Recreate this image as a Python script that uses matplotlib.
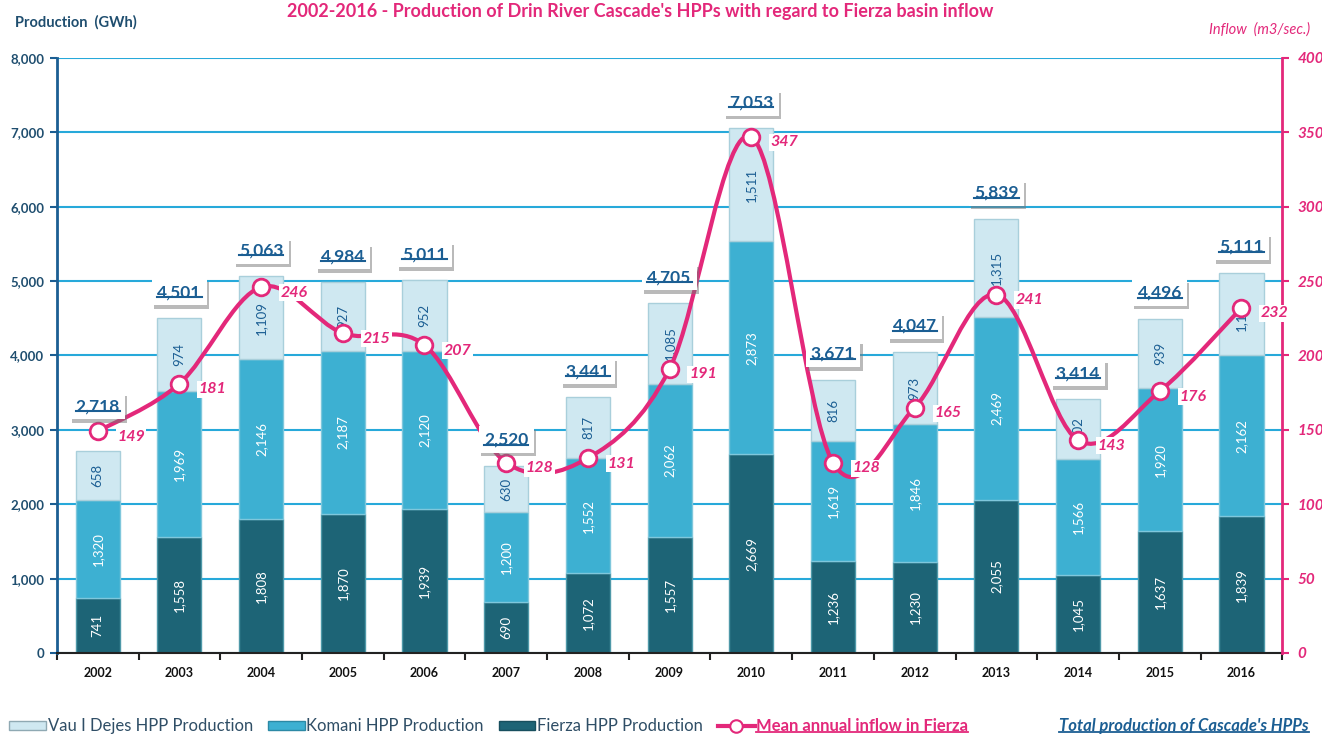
import matplotlib
matplotlib.use("Agg")
import matplotlib.pyplot as plt
import matplotlib.patheffects as pe
from matplotlib.path import Path
from matplotlib.patches import PathPatch, Patch
from matplotlib.lines import Line2D

plt.rcParams["font.family"] = ["Lato", "DejaVu Sans"]

years = ["2002", "2003", "2004", "2005", "2006", "2007", "2008", "2009",
         "2010", "2011", "2012", "2013", "2014", "2015", "2016"]
fierza = [741, 1558, 1808, 1870, 1939, 690, 1072, 1557, 2669, 1236, 1230, 2055, 1045, 1637, 1839]
komani = [1320, 1969, 2146, 2187, 2120, 1200, 1552, 2062, 2873, 1619, 1846, 2469, 1566, 1920, 2162]
vau_dejes = [658, 974, 1109, 927, 952, 630, 817, 1085, 1511, 816, 973, 1315, 802, 939, 1110]
totals = [2718, 4501, 5063, 4984, 5011, 2520, 3441, 4705, 7053, 3671, 4047, 5839, 3414, 4496, 5111]
inflow = [149, 181, 246, 215, 207, 128, 131, 191, 347, 128, 165, 241, 143, 176, 232]

C = {
    "fierza": "#1D6476",
    "komani": "#3DB0D2",
    "vau": "#CFE8F1",
    "grid": "#27A9DA",
    "blue": "#1B5E93",
    "magenta": "#E3287A",
    "tick": "#1F4E6F",
}

fig = plt.figure(figsize=(13.22, 7.36), dpi=100)
fig.patch.set_facecolor("white")
ax = fig.add_axes([0.043, 0.1128, 0.927, 0.8084])
ax2 = ax.twinx()

x = list(range(len(years)))
w = 0.54

# stacked bars
ax.bar(x, fierza, width=w, color=C["fierza"], edgecolor="#4E98A8", linewidth=1, zorder=2)
ax.bar(x, komani, width=w, bottom=fierza, color=C["komani"], edgecolor="#7FC7DC",
       linewidth=1, zorder=2)
base2 = [a + b for a, b in zip(fierza, komani)]
ax.bar(x, vau_dejes, width=w, bottom=base2, color=C["vau"], edgecolor="#A9CFDB",
       linewidth=1, zorder=2)

for i in x:
    ax.text(i, fierza[i] / 2, f"{fierza[i]:,}", rotation=90, ha="center", va="center",
            color="white", fontsize=9.5, zorder=3)
    ax.text(i, fierza[i] + komani[i] / 2, f"{komani[i]:,}", rotation=90, ha="center",
            va="center", color="white", fontsize=9.5, zorder=3)
    ax.text(i, base2[i] + vau_dejes[i] / 2, f"{vau_dejes[i]:,}", rotation=90, ha="center",
            va="center", color=C["blue"], fontsize=9.5, zorder=3)

ax.set_xlim(-0.5, len(years) - 0.5)
ax.set_ylim(0, 8000)
ax.set_yticks(range(0, 8001, 1000))
ax.set_yticklabels([f"{v:,}" for v in range(0, 8001, 1000)], color=C["tick"],
                   fontsize=9.5, fontweight="bold")
ax.set_xticks(x)
ax.set_xticklabels(years, fontsize=9, fontweight="bold", color="#111111")
ax.tick_params(axis="x", length=0, pad=10)
ax.set_xticks([i - 0.5 for i in range(len(years) + 1)], minor=True)
ax.tick_params(axis="x", which="minor", length=5, width=1.5, color="#222222")
ax.tick_params(axis="y", length=5, width=1.5, color=C["blue"], pad=4)
ax.grid(axis="y", color=C["grid"], linewidth=1.5, zorder=0)
ax.set_axisbelow(True)
for s in ["top", "right"]:
    ax.spines[s].set_visible(False)
ax.spines["left"].set_color(C["blue"])
ax.spines["left"].set_linewidth(2)
ax.spines["bottom"].set_color("#222222")
ax.spines["bottom"].set_linewidth(1.5)

# inflow axis
ax2.set_ylim(0, 400)
ax2.set_yticks(range(0, 401, 50))
ax2.set_yticklabels([str(v) for v in range(0, 401, 50)], color=C["magenta"],
                    fontsize=11, fontweight="bold", fontstyle="italic")
ax2.tick_params(axis="y", length=5, width=1.5, color=C["magenta"], pad=6)
for s in ["top", "left", "bottom"]:
    ax2.spines[s].set_visible(False)
ax2.spines["right"].set_color(C["magenta"])
ax2.spines["right"].set_linewidth(2)

# smoothed inflow line (cubic bezier through data points)
verts = [(x[0], inflow[0])]
codes = [Path.MOVETO]
n = len(x)
for i in range(n - 1):
    p0 = (x[max(i - 1, 0)], inflow[max(i - 1, 0)])
    p1 = (x[i], inflow[i])
    p2 = (x[i + 1], inflow[i + 1])
    p3 = (x[min(i + 2, n - 1)], inflow[min(i + 2, n - 1)])
    c1 = (p1[0] + (p2[0] - p0[0]) / 6, p1[1] + (p2[1] - p0[1]) / 6)
    c2 = (p2[0] - (p3[0] - p1[0]) / 6, p2[1] - (p3[1] - p1[1]) / 6)
    verts += [c1, c2, p2]
    codes += [Path.CURVE4] * 3
ax2.add_patch(PathPatch(Path(verts, codes), fill=False, edgecolor=C["magenta"],
                        linewidth=3, zorder=4, capstyle="round"))
ax2.plot(x, inflow, ls="none", marker="o", markersize=12, markerfacecolor="white",
         markeredgecolor=C["magenta"], markeredgewidth=2, zorder=5)
for i in x:
    ax2.annotate(str(inflow[i]), (i, inflow[i]), xytext=(14, -4), textcoords="offset points",
                 ha="left", va="center", color=C["magenta"], fontsize=11.5,
                 fontweight="bold", fontstyle="italic", zorder=6,
                 bbox=dict(boxstyle="square,pad=0.1", fc="white", ec="none"))

# total labels
total_offset = {0: 600}
total_texts = []
for i in x:
    t = ax2.text(i, (totals[i] + total_offset.get(i, 350)) / 20, f"{totals[i]:,}",
                 ha="center", va="center", color=C["blue"], fontsize=12.5,
                 fontweight="bold", zorder=7,
                 bbox=dict(boxstyle="square,pad=0.3", fc="white", ec="none"))
    t.get_bbox_patch().set_path_effects([
        pe.withSimplePatchShadow(offset=(1.5, -2.5), shadow_rgbFace="#777777", alpha=0.5),
        pe.Normal()])
    total_texts.append(t)

# titles
fig.text(0.484, 0.985, "2002-2016 - Production of Drin River Cascade's HPPs with regard to Fierza basin inflow",
         ha="center", va="center", color=C["magenta"], fontsize=13, fontweight="bold")
fig.text(0.011, 0.970, "Production  (GWh)", ha="left", va="center", color=C["tick"],
         fontsize=10.5, fontweight="bold")
fig.text(0.991, 0.960, "Inflow  (m3/sec.)", ha="right", va="center", color=C["magenta"],
         fontsize=10.5, fontstyle="italic")

# legend
handles = [
    Patch(facecolor=C["vau"], edgecolor="#8FA9B3"),
    Patch(facecolor=C["komani"], edgecolor="#2C89A5"),
    Patch(facecolor=C["fierza"], edgecolor="#174F5E"),
    Line2D([], [], color=C["magenta"], lw=3, marker="o", markersize=9,
           markerfacecolor="white", markeredgecolor=C["magenta"], markeredgewidth=1.5),
]
labels = ["Vau I Dejes HPP Production", "Komani HPP Production", "Fierza HPP Production",
          "Mean annual inflow in Fierza"]
leg = fig.legend(handles, labels, loc="center left", bbox_to_anchor=(0.002, 0.013), ncol=4,
                 frameon=False, fontsize=12, handlelength=2.2, handleheight=0.5,
                 handletextpad=0.1, columnspacing=0.9, borderaxespad=0)
for t in leg.get_texts()[:3]:
    t.set_color("#2F4E66")
inflow_leg = leg.get_texts()[3]
inflow_leg.set_color(C["magenta"])
inflow_leg.set_fontweight("bold")
total_leg = fig.text(0.990, 0.013, "Total production of Cascade's HPPs", ha="right", va="center",
                     color=C["blue"], fontsize=12, fontweight="bold", fontstyle="italic")

# underlines
fig.canvas.draw()
renderer = fig.canvas.get_renderer()
inv = fig.transFigure.inverted()


def underline(t, color, lw, pad=2):
    bb = t.get_window_extent(renderer)
    (x0, y0), (x1, _) = inv.transform([(bb.x0, bb.y0 + pad), (bb.x1, bb.y0 + pad)])
    fig.add_artist(Line2D([x0, x1], [y0, y0], transform=fig.transFigure, color=color,
                          linewidth=lw, zorder=10))


for t in total_texts:
    underline(t, C["blue"], 1.5, pad=3)
underline(inflow_leg, C["magenta"], 1.3)
underline(total_leg, C["blue"], 1.3)

fig.savefig("out.png", dpi=100)
